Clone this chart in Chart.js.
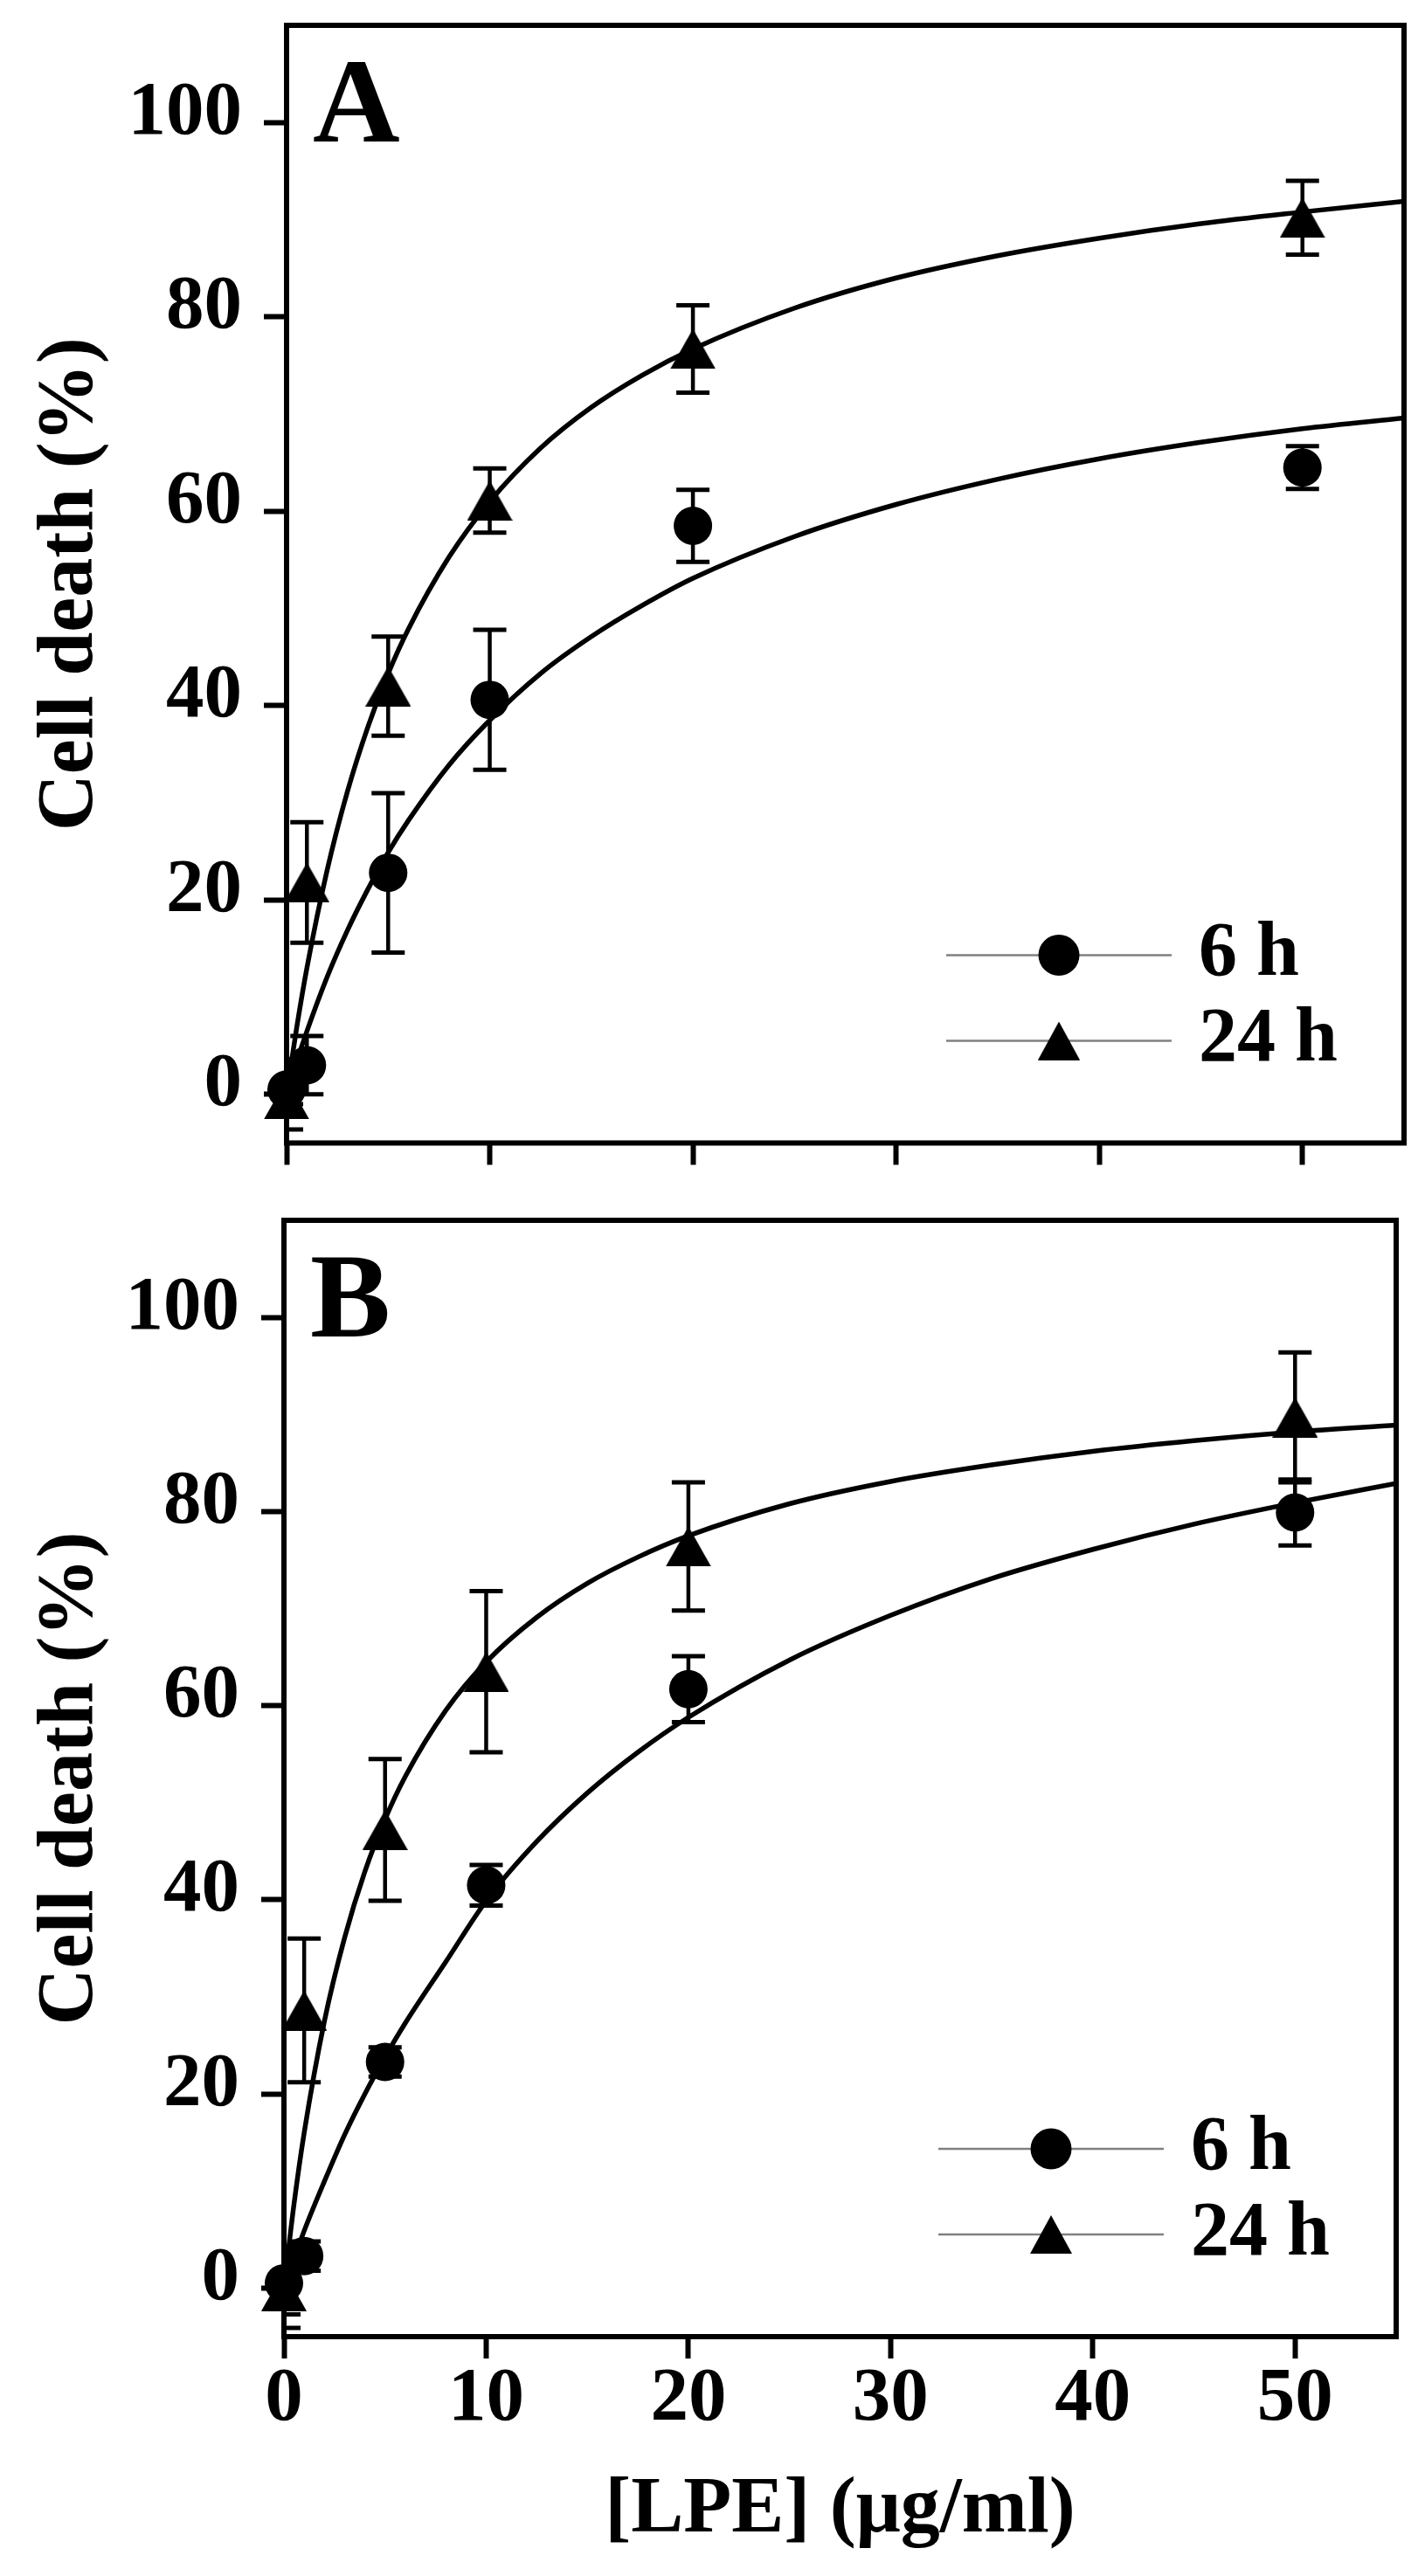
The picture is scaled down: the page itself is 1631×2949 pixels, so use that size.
<!DOCTYPE html>
<html>
<head>
<meta charset="utf-8">
<script src="https://cdn.jsdelivr.net/npm/chart.js@4.4.1/dist/chart.umd.min.js"></script>
<style>
  html, body { margin: 0; padding: 0; background: #fff; }
  #wrap { position: relative; width: 1631px; height: 2949px; }
  canvas { position: absolute; left: 0; }
  #chartA { top: 0; }
  #chartB { top: 1360px; }
</style>
</head>
<body>
<div id="wrap">
  <canvas id="chartA" width="1631" height="1360"></canvas>
  <canvas id="chartB" width="1631" height="1589"></canvas>
</div>
<script>
// LPE concentrations (ug/ml) where cell death was measured
const LPE_DOSES = [0, 1, 5, 10, 20, 50];
const SERIES_LABELS = ['6 h', '24 h'];

// panel A - mean and error
const A_6H = [0.5, 3.0, 22.8, 40.6, 58.5, 64.5];
const A_6H_ERR = [1.5, 3.0, 8.2, 7.2, 3.7, 2.2];
const A_24H = [-0.5, 21.8, 42.0, 61.1, 76.7, 90.2];
const A_24H_ERR = [3.1, 6.2, 5.1, 3.3, 4.5, 3.8];

// panel B - mean and error
const B_6H = [0.5, 3.3, 23.3, 41.5, 61.7, 79.9];
const B_6H_ERR = [3.2, 1.5, 1.5, 2.1, 3.4, 3.4];
const B_24H = [-0.3, 28.6, 47.2, 63.5, 76.4, 89.7];
const B_24H_ERR = [3.8, 7.4, 7.3, 8.3, 6.6, 6.7];

// fitted curves
const FIT_X = [0, 0.5, 1, 2, 3, 4, 5, 6, 8, 10, 12.5, 15, 17.5, 20, 25, 30, 35, 40, 45, 50, 55];
const A_6H_FIT = [0, 3.4, 6.5, 12.1, 16.9, 21.1, 24.9, 28.2, 33.9, 38.5, 43.3, 47.1, 50.3, 53.1, 57.4, 60.7, 63.3, 65.4, 67.1, 68.5, 69.6];
const A_24H_FIT = [0, 6.9, 13.0, 23.1, 31.2, 37.8, 43.3, 47.9, 55.3, 61.0, 66.5, 70.7, 74.0, 76.7, 80.9, 84.0, 86.3, 88.1, 89.6, 90.8, 91.9];
const B_6H_FIT = [0, 3.0, 5.9, 11.0, 15.8, 20.0, 23.8, 27.3, 33.6, 39.9, 46.0, 51.0, 55.2, 58.8, 64.7, 69.3, 73.1, 76.1, 78.7, 80.9, 82.9];
const B_24H_FIT = [0, 8.7, 16.0, 27.5, 36.1, 42.9, 48.3, 52.7, 59.5, 64.5, 69.1, 72.6, 75.3, 77.5, 80.8, 83.1, 84.8, 86.2, 87.3, 88.2, 88.9];

const X_TICKS = [0, 10, 20, 30, 40, 50];
const Y_TICKS = [0, 20, 40, 60, 80, 100];

const FONT = 'Liberation Serif';

// triangle marker centred on its bounding box
function triangleImage(w, h) {
    const c = document.createElement('canvas');
    c.width = w;
    c.height = h;
    const g = c.getContext('2d');
    g.fillStyle = '#000';
    g.beginPath();
    g.moveTo(w / 2, 0);
    g.lineTo(w, h);
    g.lineTo(0, h);
    g.closePath();
    g.fill();
    return c;
}
const TRI_DATA = triangleImage(52, 46);
const TRI_LEGEND = triangleImage(48, 44);

// error bars under the markers
const errorBarPlugin = {
    id: 'errorBars',
    beforeDatasetsDraw(chart) {
        const ctx = chart.ctx;
        const area = chart.chartArea;
        const xs = chart.scales.x, ys = chart.scales.y;
        ctx.save();
        ctx.beginPath();
        ctx.rect(area.left, area.top, area.right - area.left, area.bottom - area.top);
        ctx.clip();
        ctx.strokeStyle = '#000';
        chart.data.datasets.forEach(ds => {
            if (!ds.errorBars) return;
            ds.data.forEach((p, i) => {
                const e = ds.errorBars[i];
                const x = xs.getPixelForValue(p.x);
                const y1 = ys.getPixelForValue(p.y + e);
                const y2 = ys.getPixelForValue(p.y - e);
                ctx.lineWidth = 4.5;
                ctx.beginPath();
                ctx.moveTo(x, y1);
                ctx.lineTo(x, y2);
                ctx.stroke();
                ctx.lineWidth = 5;
                ctx.beginPath();
                ctx.moveTo(x - 19, y1); ctx.lineTo(x + 19, y1);
                ctx.moveTo(x - 19, y2); ctx.lineTo(x + 19, y2);
                ctx.stroke();
            });
        });
        ctx.restore();
    }
};

// box frame, panel letter and the in-plot legend
const decorPlugin = {
    id: 'decor',
    afterDraw(chart, args, opts) {
        const ctx = chart.ctx;
        const {left, top, right, bottom} = chart.chartArea;
        ctx.save();
        ctx.strokeStyle = '#000';
        ctx.lineWidth = 6;
        ctx.lineJoin = 'miter';
        ctx.strokeRect(left, top, right - left, bottom - top);

        ctx.fillStyle = '#000';
        ctx.font = `bold 138px "${FONT}"`;
        ctx.textBaseline = 'alphabetic';
        ctx.textAlign = 'left';
        ctx.fillText(opts.letter, left + 30, top + 133);

        const rows = [bottom - 215, bottom - 117];
        rows.forEach((y, i) => {
            ctx.strokeStyle = '#808080';
            ctx.lineWidth = 2.5;
            ctx.beginPath();
            ctx.moveTo(right - 524, y);
            ctx.lineTo(right - 266, y);
            ctx.stroke();
            const mx = right - 395;
            if (i === 0) {
                ctx.beginPath();
                ctx.arc(mx, y, 23.5, 0, Math.PI * 2);
                ctx.fill();
            } else {
                ctx.drawImage(TRI_LEGEND, mx - TRI_LEGEND.width / 2, y - TRI_LEGEND.height / 2);
            }
            ctx.font = `bold 88px "${FONT}"`;
            ctx.textBaseline = 'middle';
            ctx.fillText(SERIES_LABELS[i], right - 235, y);
        });
        ctx.restore();
    }
};

const tickFont = {family: FONT, weight: 'bold', size: 87, lineHeight: 1};
const titleFont = {family: FONT, weight: 'bold', size: 90, lineHeight: 1.2};

function makePanel(id, cfg) {
    const pts = vals => LPE_DOSES.map((x, i) => ({x: x, y: vals[i]}));
    const curve = vals => FIT_X.map((x, i) => ({x: x, y: vals[i]}));
    const fitStyle = {
        showLine: true, borderColor: '#000', borderWidth: 5.5, pointRadius: 0,
        cubicInterpolationMode: 'monotone', fill: false
    };
    new Chart(document.getElementById(id), {
        type: 'scatter',
        data: {
            datasets: [
                Object.assign({label: SERIES_LABELS[0] + ' fit', data: curve(cfg.fit6)}, fitStyle),
                Object.assign({label: SERIES_LABELS[1] + ' fit', data: curve(cfg.fit24)}, fitStyle),
                {
                    label: SERIES_LABELS[0], data: pts(cfg.p6), errorBars: cfg.e6,
                    pointStyle: 'circle', pointRadius: 22, backgroundColor: '#000',
                    borderWidth: 0, showLine: false, clip: false
                },
                {
                    label: SERIES_LABELS[1], data: pts(cfg.p24), errorBars: cfg.e24,
                    pointStyle: TRI_DATA, pointRadius: 22, backgroundColor: '#000',
                    borderWidth: 0, showLine: false, clip: false
                }
            ]
        },
        options: {
            responsive: false,
            animation: false,
            events: [],
            layout: {padding: {left: 0, right: cfg.padRight, top: cfg.padTop, bottom: 0}},
            plugins: {
                legend: {display: false},
                tooltip: {enabled: false},
                decor: {letter: cfg.letter}
            },
            scales: {
                x: {
                    type: 'linear', min: 0, max: 55,
                    afterBuildTicks: s => { s.ticks = X_TICKS.map(v => ({value: v})); },
                    afterFit: s => {
                        s.height = cfg.xHeight;
                        s.paddingLeft = 0;
                        s.paddingRight = 0;
                    },
                    border: {display: false},
                    grid: {drawOnChartArea: false, drawTicks: true, tickLength: 25, tickWidth: 6, tickColor: '#000'},
                    ticks: {display: cfg.xLabels, font: tickFont, color: '#000', padding: 4, maxRotation: 0},
                    title: {
                        display: cfg.xLabels, text: '[LPE] (μg/ml)', font: titleFont, color: '#000',
                        padding: {top: 0, bottom: 20}
                    }
                },
                y: {
                    type: 'linear', min: -5, max: 110,
                    afterBuildTicks: s => { s.ticks = Y_TICKS.map(v => ({value: v})); },
                    afterFit: s => {
                        s.width = cfg.yWidth;
                        s.paddingTop = 0;
                        s.paddingBottom = 0;
                    },
                    border: {display: false},
                    grid: {drawOnChartArea: false, drawTicks: true, tickLength: 26, tickWidth: 6, tickColor: '#000'},
                    ticks: {font: tickFont, color: '#000', padding: 25, labelOffset: -10},
                    title: {
                        display: true, text: 'Cell death (%)', font: titleFont, color: '#000',
                        padding: {top: 28, bottom: 0}
                    }
                }
            }
        },
        plugins: [errorBarPlugin, decorPlugin]
    });
}

makePanel('chartA', {
    letter: 'A', p6: A_6H, e6: A_6H_ERR, p24: A_24H, e24: A_24H_ERR,
    fit6: A_6H_FIT, fit24: A_24H_FIT,
    padTop: 29, padRight: 24, yWidth: 328, xHeight: 51.5, xLabels: false
});
makePanel('chartB', {
    letter: 'B', p6: B_6H, e6: B_6H_ERR, p24: B_24H, e24: B_24H_ERR,
    fit6: B_6H_FIT, fit24: B_24H_FIT,
    padTop: 37, padRight: 33, yWidth: 325, xHeight: 274, xLabels: true
});
</script>
</body>
</html>
